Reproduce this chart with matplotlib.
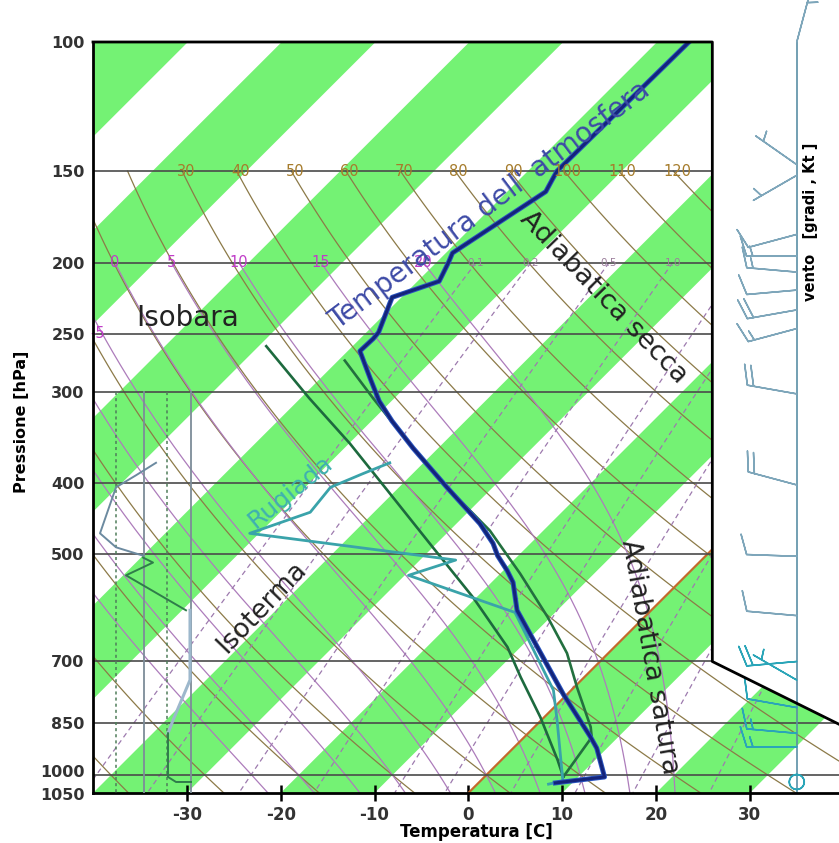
import numpy as np
import matplotlib
matplotlib.use('Agg')
import matplotlib.pyplot as plt
import matplotlib.transforms as mtransforms
from matplotlib.patches import Polygon
from matplotlib.ticker import NullLocator

# skew-T geometry: x axis is the skewed temperature, y axis is log pressure
P_BOT, P_TOP = 1058, 100
SKEW = 78.2
X_MIN, X_MAX = -40, 39.5


def skx(T, p):
    return np.asarray(T, dtype=float) + SKEW * np.log10(P_BOT / np.asarray(p, dtype=float))


# sounding - air temperature
temp_p = [1025, 1006, 919, 885, 776, 596, 546, 526, 502, 483, 454, 405, 358, 329,
          309, 287, 264, 254, 249, 223, 212, 200, 194, 160, 154, 150, 100]
temp_t = [8.2, 12.8, 8.9, 6.9, -0.4, -14.3, -17.7, -19.6, -22.2, -24.0, -27.5, -34.9, -42.7, -47.8,
          -51.3, -54.8, -58.7, -58.6, -58.7, -61.0, -57.7, -58.7, -59.3, -55.9, -56.5, -56.9, -56.6]

# sounding - dew point
dew_p = [1029, 1019, 842, 766, 600, 534, 509, 468, 438, 405, 388, 375]
dew_t = [7.6, 8.8, 1.7, -1.9, -14.3, -29.6, -26.2, -51.0, -46.8, -47.3, -45.3, -43.6]

# parcel curves
par1_p = [260, 306, 353, 409, 489, 572, 669, 735, 834, 954, 1006]
par1_t = [-69.2, -59.1, -49.9, -40.9, -30.0, -20.4, -11.4, -6.8, -0.4, 6.0, 8.4]
par2_p = [272, 306, 350, 396, 464, 531, 609, 682, 759, 860, 888, 1006]
par2_t = [-59.3, -52.3, -44.1, -36.4, -25.7, -17.9, -10.3, -4.4, 0.3, 6.0, 7.2, 8.4]

# small humidity panel on the left
rh_grid = [23, 51, 74, 98]
rh1_p = [375, 390, 405, 468, 489, 502]
rh1_v = [63, 43, 23, 7, 23, 50]
rh2_p = [505, 513, 534, 596]
rh2_v = [50, 60, 33, 93]
rh3_p = [596, 742, 842, 877]
rh3_v = [97, 97, 80, 75]
rh4_p = [877, 1006, 1022, 1022]
rh4_v = [75, 75, 83, 98]

# wind column
wind_p = [100, 147, 152, 183, 196, 206, 218, 232, 246, 302, 402, 503, 606, 700, 742, 809, 877, 915, 1022]
wind_dir = [15, 305, 240, 255, 270, 275, 265, 260, 255, 280, 285, 272, 275, 265, 300, 280, 275, 270, 0]
wind_spd = [5, 3, 3, 10, 15, 15, 10, 20, 15, 20, 20, 10, 10, 20, 5, 10, 15, 15, 0]

# reference lines
iso_p = [150, 200, 250, 300, 400, 500, 700, 850, 1000]
theta = list(range(-40, 130, 10))
theta_lab = list(range(30, 130, 10))
thw = list(range(-25, 25, 5))
thw_lab = [0, 5, 10, 15, 20]
mix = [0.1, 0.2, 0.5, 1.0, 2.0, 3.0, 5.0, 8.0, 12.0, 20.0]
mix_lab = ['0.1', '0.2', '0.5', '1.0']

p_ticks = [100, 150, 200, 250, 300, 400, 500, 700, 850, 1000, 1050]
t_ticks = [-30, -20, -10, 0, 10, 20, 30]

frame_x = [-40, -40, 26, 26, 54.3]
frame_p = [1058, 100, 100, 700, 1058]


def lapse(T, p):
    es = 6.112 * np.exp(17.67 * (T - 273.15) / (T - 29.65))
    rs = 0.622 * es / (p - es)
    return (287.04 * T + 2.501e6 * rs) / (1005.7 + 2.501e6 ** 2 * rs * 0.622 / (287.04 * T ** 2)) / p


def moist(tw, p_end, n=160):
    ps = np.linspace(1000, p_end, n)
    T = np.asarray(tw, dtype=float) + 273.15
    out = [T]
    for p0, p1 in zip(ps[:-1], ps[1:]):
        h = p1 - p0
        k1 = lapse(T, p0)
        k2 = lapse(T + h * k1 / 2, p0 + h / 2)
        k3 = lapse(T + h * k2 / 2, p0 + h / 2)
        k4 = lapse(T + h * k3, p1)
        T = T + h * (k1 + 2 * k2 + 2 * k3 + k4) / 6
        out.append(T)
    return ps, np.array(out) - 273.15


fig = plt.figure(figsize=(8.39, 8.43), dpi=100)
ax = fig.add_axes([93 / 839, 50 / 843, 746 / 839, 751 / 843])
ax.set_yscale('log')
ax.set_xlim(X_MIN, X_MAX)
ax.set_ylim(P_BOT, P_TOP)

clip = Polygon(np.column_stack([frame_x, frame_p]), closed=True, transform=ax.transData,
               facecolor='none', edgecolor='none')


def clipped(artists):
    for a in artists:
        a.set_clip_path(clip)


# green isotherm bands
for t0 in range(-140, 60, 20):
    xs = [skx(t0, P_BOT), skx(t0 + 10, P_BOT), skx(t0 + 10, P_TOP), skx(t0, P_TOP)]
    clipped(ax.fill(xs, [P_BOT, P_BOT, P_TOP, P_TOP], color='#74f274', lw=0, zorder=0))

# dry adiabats
pp = np.geomspace(150, P_BOT, 80)
for th in theta:
    t = (th + 273.15) * (pp / 1000) ** 0.2857 - 273.15
    clipped(ax.plot(skx(t, pp), pp, color='#8c7a48', lw=0.9, zorder=1))
for th in theta_lab:
    t = (th + 273.15) * (150 / 1000) ** 0.2857 - 273.15
    ax.text(skx(t, 150) + 0.4, 150, str(th), color='#a67c2c', fontsize=10.5,
            ha='center', va='center', zorder=4)

# saturated adiabats
pu, tu = moist(thw, 200)
pd, td = moist(thw, P_BOT, 20)
for i, tw in enumerate(thw):
    ps = np.concatenate([pd[::-1], pu[1:]])
    ts = np.concatenate([td[::-1, i], tu[1:, i]])
    clipped(ax.plot(skx(ts, ps), ps, color='#ad7cbb', lw=0.9, zorder=1))
    if tw in thw_lab:
        ax.text(skx(ts[-1], 200), 200, str(tw), color='#c03cc8', fontsize=10.5,
                ha='center', va='center', zorder=4)
    if tw == -5:
        ax.text(X_MIN + 0.5, 250, '-5', color='#c03cc8', fontsize=10.5,
                ha='center', va='center', zorder=4)

# mixing ratio lines
pm = np.geomspace(200, P_BOT, 40)
for w in mix:
    e = w * pm / (622 + w)
    le = np.log(e / 6.112)
    td_w = 243.5 * le / (17.67 - le)
    clipped(ax.plot(skx(td_w, pm), pm, color='#9d7aae', lw=0.9, ls=(0, (4, 3)), zorder=1))
    if '%.1f' % w in mix_lab:
        ax.text(skx(td_w[0], 200), 200, '%.1f' % w, color='#9c7f9c', fontsize=7.5,
                ha='center', va='center', zorder=4)

# 0 degC isotherm
clipped(ax.plot(skx([0, 0], [P_BOT, P_TOP]), [P_BOT, P_TOP], color='#c36a2c', lw=1.6, zorder=2))

# isobars
for p in iso_p:
    clipped([ax.axhline(p, color='#4a4a4a', lw=1.2, zorder=2)])

# humidity panel
ax2 = fig.add_axes([93 / 839, 50 / 843, 100 / 839, 751 / 843])
ax2.set_yscale('log')
ax2.set_xlim(0, 100)
ax2.set_ylim(P_BOT, P_TOP)
ax2.axis('off')
for i, v in enumerate(rh_grid):
    if i % 2 == 0:
        ax2.plot([v, v], [300, P_BOT], color='#4f7d5a', lw=1.1, ls=(0, (2, 2)))
    else:
        ax2.plot([v, v], [300, P_BOT], color='#7d8c99', lw=1.3)
ax2.plot(rh1_v, rh1_p, color='#6c8aa0', lw=1.4)
ax2.plot(rh2_v, rh2_p, color='#2f7d4a', lw=1.4)
ax2.plot(rh3_v, rh3_p, color='#9db8cc', lw=2.2)
ax2.plot(rh4_v, rh4_p, color='#2f7d4a', lw=1.4)

# sounding curves
ax.plot(skx(par1_t, par1_p), par1_p, color='#1d6a3e', lw=1.9, zorder=3)
ax.plot(skx(par2_t, par2_p), par2_p, color='#23703f', lw=1.9, zorder=3)
ax.plot(skx(dew_t, dew_p), dew_p, color='#3aa3aa', lw=2.0, zorder=3)
ax.plot(skx(temp_t, temp_p), temp_p, color='#2a55c0', lw=3.6, zorder=3)
ax.plot(skx(temp_t, temp_p), temp_p, color='#14247a', lw=2.2, zorder=3)

# wind column
wd = np.radians(wind_dir)
u = -np.array(wind_spd) * np.sin(wd)
v = -np.array(wind_spd) * np.cos(wd)
ax.plot([35, 35], [P_TOP, P_BOT], color='#5a8fa5', lw=1.2, clip_on=False, zorder=3)
up = np.array(wind_p) < 650
ax.barbs(np.full(up.sum(), 35.0), np.array(wind_p)[up], u[up], v[up], length=8.5,
         color='#7ea6ba', linewidth=1.1, clip_on=False, zorder=3)
ax.barbs(np.full((~up).sum(), 35.0), np.array(wind_p)[~up], u[~up], v[~up], length=8.5,
         color='#2aa5b8', linewidth=1.1, clip_on=False, zorder=3)

# frame
ax.plot(frame_x[1:], frame_p[1:], color='black', lw=2, clip_on=False, zorder=5)
for s in ['top', 'right']:
    ax.spines[s].set_visible(False)
for s in ['left', 'bottom']:
    ax.spines[s].set_linewidth(2)
    ax.spines[s].set_zorder(5)

ax.set_xticks(t_ticks)
ax.set_xticklabels([str(t) for t in t_ticks], fontsize=12, fontweight='bold', color='#333333')
ax.tick_params(axis='x', direction='inout', length=11, width=1.8, pad=4)
ax.set_yticks(p_ticks)
ax.set_yticklabels([str(p) for p in p_ticks], fontsize=11.5, fontweight='bold', color='#333333')
ax.yaxis.set_minor_locator(NullLocator())
ax.tick_params(axis='y', length=0, pad=6)
# the two lowest pressure labels sit very close: nudge them apart a little
ylabs = ax.get_yticklabels()
ylabs[-2].set_transform(ylabs[-2].get_transform() +
                        mtransforms.ScaledTranslation(0, 3 / 72, fig.dpi_scale_trans))
ylabs[-1].set_transform(ylabs[-1].get_transform() +
                        mtransforms.ScaledTranslation(0, -2.5 / 72, fig.dpi_scale_trans))

# annotations
fig.text(22 / 839, 1 - 422 / 843, 'Pressione [hPa]', rotation=90, fontsize=11.5,
         fontweight='bold', ha='center', va='center')
fig.text(476 / 839, 1 - 832 / 843, 'Temperatura [C]', fontsize=12,
         fontweight='bold', ha='center', va='center')
fig.text(811 / 839, 1 - 222 / 843, 'vento   [gradi , Kt ]', rotation=90, fontsize=10.5,
         fontweight='bold', ha='center', va='center')

fig.text(188 / 839, 1 - 318 / 843, 'Isobara', fontsize=20, color='#222222',
         ha='center', va='center')
fig.text(490 / 839, 1 - 205 / 843, "Temperatura dell' atmosfera", fontsize=20,
         color='#3d4aa6', rotation=37, ha='center', va='center', rotation_mode='anchor')
fig.text(604 / 839, 1 - 297 / 843, 'Adiabatica secca', fontsize=19.5, color='#222222',
         rotation=-46, ha='center', va='center', rotation_mode='anchor')
fig.text(650 / 839, 1 - 657 / 843, 'Adiabatica satura', fontsize=19.5, color='#222222',
         rotation=-80, ha='center', va='center', rotation_mode='anchor')
fig.text(262 / 839, 1 - 607 / 843, 'Isoterma', fontsize=19, color='#222222',
         rotation=46, ha='center', va='center', rotation_mode='anchor')
fig.text(290 / 839, 1 - 492 / 843, 'Rugiada', fontsize=18, color='#3fb0b0',
         rotation=39, ha='center', va='center', rotation_mode='anchor')

fig.savefig('out.png', dpi=100)
